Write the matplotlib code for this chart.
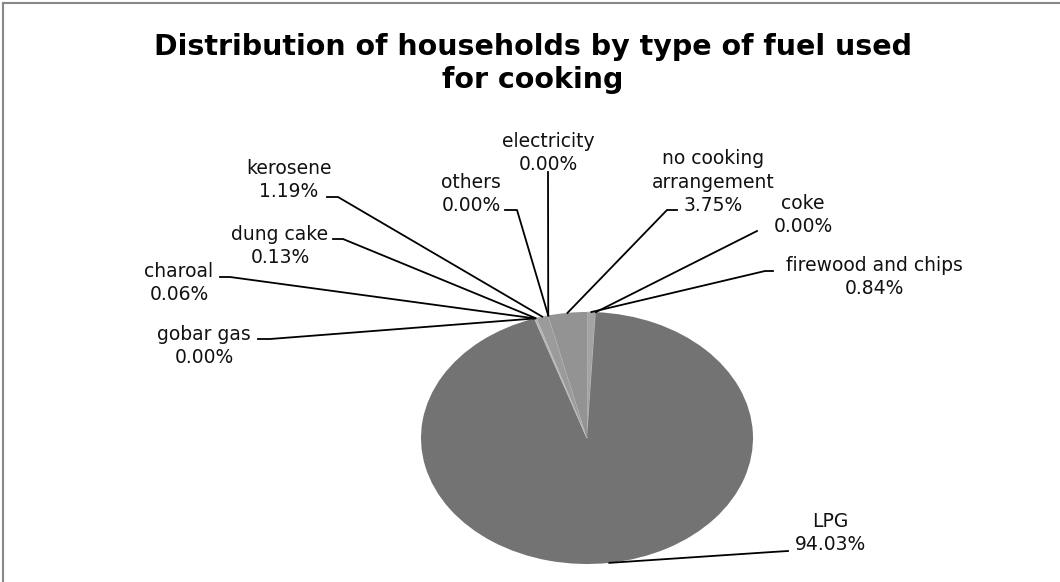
import numpy as np
import matplotlib.pyplot as plt
from matplotlib.lines import Line2D

# data, clockwise from 12 o'clock
fuel_types = ['firewood and chips', 'coke', 'LPG', 'gobar gas', 'charoal',
              'dung cake', 'kerosene', 'others', 'electricity',
              'no cooking\narrangement']
shares = [0.84, 0.00, 94.03, 0.00, 0.06, 0.13, 1.19, 0.00, 0.00, 3.75]
slice_colors = ['#a4a4a4', '#a8a8a8', '#737373', '#8a8a8a', '#b4b4b4',
                '#aaaaaa', '#9b9b9b', '#a0a0a0', '#a0a0a0', '#939393']

# label layout in pixels (text centre, leader anchor points)
label_pos = [(874, 277), (803, 215), (830, 533), (204, 346), (179, 283),
             (280, 246), (289, 180), (471, 194), (548, 153), (713, 182)]
leader_pts = [[(773, 271), (765, 271)],
              [(757, 231)],
              [(788, 551), (772, 552)],
              [(258, 339), (270, 339)],
              [(220, 277), (230, 277)],
              [(333, 239), (343, 239)],
              [(327, 197), (338, 197)],
              [(505, 210), (517, 210)],
              [(548, 172)],
              [(677, 210), (667, 210)]]

W, H = 1060, 582
cx, cy, rx, ry = 587, 438, 166, 126  # pie ellipse in pixels

fig = plt.figure(figsize=(W / 100, H / 100), dpi=100)
ax = fig.add_axes([0, 0, 1, 1])

wedges, _ = ax.pie(shares, colors=slice_colors, startangle=90, counterclock=False,
                   wedgeprops=dict(linewidth=0))
for w in wedges:
    if w.theta2 - w.theta1 < 10:
        w.set_edgecolor('#bcbcbc')
        w.set_linewidth(0.5)

ax.set_aspect('auto')
ax.set_xlim(-cx / rx, (W - cx) / rx)
ax.set_ylim(-(H - cy) / ry, cy / ry)
ax.axis('off')


def px(x, y):
    return (x - cx) / rx, (cy - y) / ry


for w, name, val, pos, pts in zip(wedges, fuel_types, shares, label_pos, leader_pts):
    mid = np.deg2rad((w.theta1 + w.theta2) / 2)
    edge = (np.cos(mid), np.sin(mid))
    path = [px(*p) for p in pts] + [edge]
    xs, ys = zip(*path)
    ax.add_line(Line2D(xs, ys, color='black', lw=1.3, clip_on=False))
    ax.text(*px(*pos), f'{name}\n{val:.2f}%', ha='center', va='center',
            fontsize=13.5, family='DejaVu Sans', linespacing=1.3, color='#111111')

fig.text(533 / W, 1 - 63.5 / H, 'Distribution of households by type of fuel used\nfor cooking',
         ha='center', va='center', fontsize=20.5, fontweight='bold', family='DejaVu Sans',
         linespacing=1.2)

# chart frame (top and left edges visible)
fig.add_artist(Line2D([3 / W, 3 / W], [0, 1 - 3 / H], color='#888888', lw=1.5,
                      transform=fig.transFigure))
fig.add_artist(Line2D([3 / W, 1], [1 - 3 / H, 1 - 3 / H], color='#888888', lw=1.5,
                      transform=fig.transFigure))

fig.savefig('out.png', dpi=100)
